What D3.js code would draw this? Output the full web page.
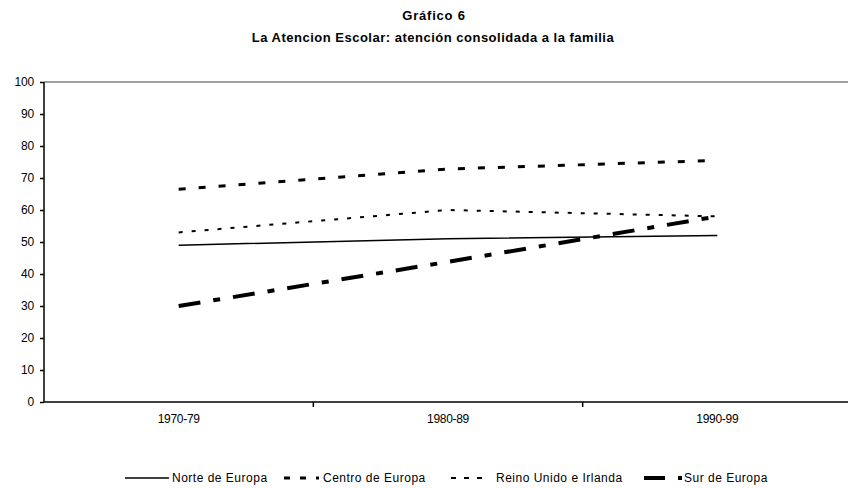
<!DOCTYPE html>
<html><head><meta charset="utf-8">
<script src="https://cdn.jsdelivr.net/npm/d3@7"></script>
<style>body{margin:0;background:#fff}svg{display:block;font-family:Arial,"Liberation Sans",sans-serif}</style>
</head><body><svg id="c" width="848" height="488"></svg>
<script>
const categories = ["1970-79", "1980-89", "1990-99"];
const norte = [49, 51, 52];
const centro = [66.5, 72.8, 75.5];
const reino = [53, 60, 58];
const sur = [30, 43.8, 58];
const yTicks = [0, 10, 20, 30, 40, 50, 60, 70, 80, 90, 100];
const seriesNames = ["Norte de Europa", "Centro de Europa", "Reino Unido e Irlanda", "Sur de Europa"];

const svg = d3.select("#c");
const L = 44, R = 852, T = 82, B = 402;
const x = d3.scaleBand().domain(categories).range([L, R]).paddingInner(0).paddingOuter(0);
const y = d3.scaleLinear().domain([0, 100]).range([B, T]);

svg.append("text").attr("x", 434).attr("y", 20).attr("text-anchor", "middle")
  .attr("font-weight", "bold").attr("font-size", 13).attr("letter-spacing", 0.8).text("Gráfico 6");
svg.append("text").attr("x", 433).attr("y", 42).attr("text-anchor", "middle")
  .attr("font-weight", "bold").attr("font-size", 13).attr("letter-spacing", 0.5)
  .text("La Atencion Escolar: atención consolidada a la familia");

// top border
svg.append("line").attr("x1", L).attr("x2", 848).attr("y1", T).attr("y2", T)
  .attr("stroke", "#808080").attr("stroke-width", 1.5);

// y axis
const yAxis = svg.append("g").attr("transform", `translate(${L},0)`)
  .call(d3.axisLeft(y).tickValues(yTicks).tickSize(4).tickPadding(6).tickFormat(d3.format("d")));
yAxis.select(".domain").attr("stroke", "#000").attr("stroke-width", 1.5).attr("d", `M0,${T}V${B}`);
yAxis.selectAll(".tick line").attr("stroke", "#000").attr("stroke-width", 1.5);
yAxis.selectAll("text").attr("font-size", 12).attr("letter-spacing", -0.2)
  .attr("font-family", "Arial, 'Liberation Sans', sans-serif").attr("fill", "#000");

// x axis
const xb = svg.append("g").attr("transform", `translate(0,${B})`);
xb.append("line").attr("x1", L).attr("x2", 848).attr("stroke", "#000").attr("stroke-width", 1.5);
categories.forEach((c, i) => {
  if (i > 0) xb.append("line").attr("x1", x(c)).attr("x2", x(c)).attr("y1", 0).attr("y2", 5)
    .attr("stroke", "#000").attr("stroke-width", 1.5);
});
xb.selectAll("text.xl").data(categories).enter().append("text")
  .attr("x", d => x(d) + x.bandwidth() / 2).attr("y", 21).attr("text-anchor", "middle")
  .attr("font-size", 12).attr("letter-spacing", -0.3).text(d => d);

const cx = d => x(d) + x.bandwidth() / 2;
const line = d3.line().x((d, i) => cx(categories[i])).y(d => y(d));
const styles = [
  { data: norte, w: 1.5, dash: null, ld: null },
  { data: centro, w: 3, dash: "7 13", ld: "6 10 6 10 3 20" },
  { data: reino, w: 2, dash: "4 9", ld: "5 8" },
  { data: sur, w: 4, dash: "22 13 7 13", ld: "21 13 4 30" }
];
styles.forEach(s => {
  svg.append("path").attr("d", line(s.data)).attr("fill", "none").attr("stroke", "#000")
    .attr("stroke-width", s.w).attr("stroke-dasharray", s.dash);
});

// legend
const legX = [125, 284, 451, 644];
const legW = [44, 37, 31, 38];
const legTX = [172, 323, 496, 684];
const ly = 478;
styles.forEach((s, i) => {
  svg.append("line").attr("x1", legX[i]).attr("x2", legX[i] + legW[i]).attr("y1", ly).attr("y2", ly)
    .attr("stroke", "#000").attr("stroke-width", i === 0 ? 1.5 : s.w).attr("stroke-dasharray", s.ld);
  svg.append("text").attr("x", legTX[i]).attr("y", ly + 4).attr("font-size", 12)
    .attr("letter-spacing", 0.5).text(seriesNames[i]);
});
</script></body></html>
